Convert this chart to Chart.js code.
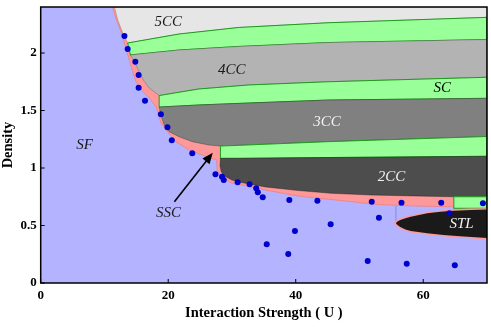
<!DOCTYPE html>
<html lang="en">
<head>
    <meta charset="UTF-8">
    <title>Phase Diagram</title>
    <script src="https://cdn.jsdelivr.net/npm/chart.js"></script>
    <style>
        body { margin: 0; background: #fff; }
        canvas { display: block; }
    </style>
</head>
<body>
    <canvas id="phaseChart" width="491" height="327"></canvas>
    <script>
        // Axis ranges and ticks
        const uRange = [0, 70];
        const densityRange = [0, 2.4];
        const uTicks = [0, 20, 40, 60];
        const densityTicks = [0, 0.5, 1, 1.5, 2];

        // Phase boundaries as [U, density] pairs
        const outerEdge = [[11.26, 2.4], [11.88, 2.287], [12.66, 2.174], [13.44, 2.026], [14.22, 1.878], [14.84, 1.765],
            [15.78, 1.678], [17.02, 1.609], [18.12, 1.530], [18.85, 1.391], [19.88, 1.316], [21.18, 1.229],
            [23.26, 1.157], [25.33, 1.113], [27.41, 1.075]];
        const pinkBottom = [[27.6, 1.07], [27.7, 0.98], [28.5, 0.915], [29.95, 0.870], [31.82, 0.850], [35.2, 0.809],
            [40.39, 0.756], [45.53, 0.726], [52.85, 0.683], [58.5, 0.670], [64.8, 0.663]];
        const cc5Edge = [[11.57, 2.4], [12.09, 2.287], [12.87, 2.174], [13.64, 2.087]];
        const green1Top = [[13.64, 2.087], [21.7, 2.165], [31.04, 2.222], [45.06, 2.263], [70, 2.31]];
        const green1Bottom = [[14.07, 1.983], [21.7, 2.026], [31.04, 2.057], [45.06, 2.091], [70, 2.117]];
        const cc4Edge = [[14.07, 1.983], [14.69, 1.922], [15.31, 1.852], [16.09, 1.765], [17.02, 1.696], [18.58, 1.630]];
        const green2Top = [[18.58, 1.630], [24.81, 1.687], [32.6, 1.722], [45.06, 1.750], [70, 1.789]];
        const green2Bottom = [[18.58, 1.530], [24.81, 1.548], [32.6, 1.565], [45.06, 1.591], [70, 1.606]];
        const cc3Edge = [[18.58, 1.530], [18.85, 1.461], [19.36, 1.374], [20.14, 1.316], [21.7, 1.272], [23.77, 1.229],
            [26.37, 1.2], [28.19, 1.191]];
        const green3Top = [[28.19, 1.191], [31.04, 1.197], [45.06, 1.229], [70, 1.274]];
        const green3Bottom = [[28.19, 1.084], [31.04, 1.084], [45.06, 1.091], [70, 1.102]];
        const cc2Edge = [[28.19, 1.084], [28.12, 1.02], [28.3, 0.97], [28.71, 0.935], [29.96, 0.896], [31.04, 0.878],
            [35.25, 0.835], [40.39, 0.804], [45.53, 0.780], [51.76, 0.765], [58.5, 0.757], [64.8, 0.750], [70, 0.750]];
        const scPatch = [[64.8, 0.75], [70, 0.75], [70, 0.65], [64.8, 0.65]];
        const stlTop = [[55.7, 0.519], [55.95, 0.534], [56.4, 0.548], [57.2, 0.564], [58.04, 0.577], [60.64, 0.606],
            [62.7, 0.619], [64.8, 0.629], [67.5, 0.635], [70, 0.639]];
        const stlBottom = [[55.7, 0.519], [55.95, 0.504], [56.4, 0.488], [57.2, 0.466], [58.04, 0.452], [60.64, 0.432],
            [63.2, 0.418], [65.78, 0.406], [70, 0.391]];
        const stlHaloTop = [[55.35, 0.519], [55.7, 0.541], [56.2, 0.557], [57.1, 0.576], [58.04, 0.589], [60.64, 0.618],
            [62.7, 0.631], [64.8, 0.641], [67.5, 0.647], [70, 0.651]];
        const stlHaloBottom = [[55.35, 0.519], [55.7, 0.497], [56.2, 0.479], [57.1, 0.455], [58.04, 0.440], [60.64, 0.419],
            [63.2, 0.405], [65.78, 0.393], [70, 0.378]];
        const stlSeam = [[55.7, 0.668], [55.7, 0.519]];

        // Simulation points
        const dotsU = [13.13, 13.64, 14.84, 15.36, 15.36, 16.36, 18.85, 19.88, 20.56, 23.77, 27.41, 28.44, 28.71,
            30.89, 32.76, 33.80, 34.05, 34.83, 38.99, 43.40, 51.92, 56.59, 62.82, 64.11, 69.36, 53.05, 45.48,
            39.88, 35.45, 38.83, 51.29, 57.41, 64.95];
        const dotsDensity = [2.148, 2.035, 1.924, 1.809, 1.698, 1.585, 1.467, 1.354, 1.241, 1.128, 0.945, 0.924, 0.896,
            0.876, 0.858, 0.823, 0.789, 0.745, 0.722, 0.716, 0.707, 0.698, 0.698, 0.607, 0.693, 0.568, 0.510,
            0.452, 0.337, 0.252, 0.191, 0.168, 0.154];

        // Phase names and where they sit
        const phaseLabels = [
            { text: '5CC', u: 19.99, d: 2.272, color: '#1a1a1a' },
            { text: '4CC', u: 29.95, d: 1.852, color: '#1a1a1a' },
            { text: 'SC', u: 62.98, d: 1.696, color: '#000' },
            { text: '3CC', u: 44.91, d: 1.403, color: '#f2f2f2' },
            { text: '2CC', u: 55.03, d: 0.924, color: '#f2f2f2' },
            { text: 'STL', u: 66.01, d: 0.510, color: '#f2f2f2' },
            { text: 'SF', u: 6.9, d: 1.2, color: '#1a1a1a' },
            { text: 'SSC', u: 20.06, d: 0.609, color: '#1a1a1a' }
        ];
        const sscArrow = [[20.97, 0.707], [26.99, 1.133]];

        const rev = a => a.slice().reverse();
        const toPoints = pts => pts.concat([pts[0]]).map(([u, d]) => ({ x: u, y: d }));

        function region(pts, fillColor, lineColor, lineWidth) {
            return {
                data: toPoints(pts),
                showLine: true,
                fill: 'shape',
                backgroundColor: fillColor,
                borderColor: lineColor,
                borderWidth: lineWidth,
                pointRadius: 0,
                pointHoverRadius: 0,
                tension: 0
            };
        }

        const green = '#99ff99', greenLine = '#1c9c1c';
        const datasets = [
            region([[0, 0], [70, 0], [70, 2.4], [0, 2.4]], '#b3b3ff', '#b3b3ff', 0),
            region([...outerEdge, ...pinkBottom, [64.8, 0.64], [70, 0.64], [70, 2.4]], '#ff9999', '#ee8080', 0.8),
            region([...cc5Edge, ...green1Top, [70, 2.4]], '#e6e6e6', 'rgba(80,80,80,0.5)', 0.6),
            region([...green1Top, ...rev(green1Bottom)], green, greenLine, 1),
            region([...green1Bottom, ...rev(green2Top), ...rev(cc4Edge)], '#b3b3b3', 'rgba(60,60,60,0.5)', 0.6),
            region([...green2Top, ...rev(green2Bottom)], green, greenLine, 1),
            region([...green2Bottom, ...rev(green3Top), ...rev(cc3Edge)], '#808080', 'rgba(40,40,40,0.6)', 0.6),
            region([...green3Top, ...rev(green3Bottom)], green, greenLine, 1),
            region([...green3Bottom, ...rev(cc2Edge)], '#4d4d4d', 'rgba(20,20,20,0.6)', 0.6),
            region(scPatch, green, greenLine, 1),
            {
                data: stlSeam.map(([u, d]) => ({ x: u, y: d })),
                showLine: true, fill: false, borderColor: '#9a9af0', borderWidth: 1, pointRadius: 0
            },
            region([...stlHaloTop, ...rev(stlHaloBottom)], '#ff9999', '#ff9999', 0),
            region([...stlTop, ...rev(stlBottom)], '#1a1a1a', '#1a1a1a', 0),
            {
                data: dotsU.map((u, i) => ({ x: u, y: dotsDensity[i] })),
                showLine: false,
                pointRadius: 3,
                pointBackgroundColor: '#0000cc',
                pointBorderWidth: 0
            }
        ];
        // first dataset at the back
        datasets.forEach((ds, i) => { ds.order = datasets.length - i; });

        const serif = '"Liberation Serif", "Times New Roman", serif';

        // Labels, arrow, frame and inward ticks
        const overlay = {
            id: 'overlay',
            afterDatasetsDraw(chart) {
                const { ctx, chartArea: a, scales: { x, y } } = chart;
                ctx.save();

                const [t0, t1] = sscArrow.map(([u, d]) => [x.getPixelForValue(u), y.getPixelForValue(d)]);
                const ang = Math.atan2(t1[1] - t0[1], t1[0] - t0[0]);
                const head = 11, half = 4.5;
                ctx.strokeStyle = '#000';
                ctx.lineWidth = 1.6;
                ctx.beginPath();
                ctx.moveTo(t0[0], t0[1]);
                ctx.lineTo(t1[0] - Math.cos(ang) * head * 0.8, t1[1] - Math.sin(ang) * head * 0.8);
                ctx.stroke();
                ctx.fillStyle = '#000';
                ctx.beginPath();
                ctx.moveTo(t1[0], t1[1]);
                ctx.lineTo(t1[0] - Math.cos(ang) * head - Math.sin(ang) * half, t1[1] - Math.sin(ang) * head + Math.cos(ang) * half);
                ctx.lineTo(t1[0] - Math.cos(ang) * head + Math.sin(ang) * half, t1[1] - Math.sin(ang) * head - Math.cos(ang) * half);
                ctx.closePath();
                ctx.fill();

                ctx.font = 'italic 15px ' + serif;
                ctx.textAlign = 'center';
                ctx.textBaseline = 'middle';
                phaseLabels.forEach(l => {
                    ctx.fillStyle = l.color;
                    ctx.fillText(l.text, x.getPixelForValue(l.u), y.getPixelForValue(l.d));
                });

                ctx.strokeStyle = '#000';
                ctx.lineWidth = 1.5;
                ctx.strokeRect(a.left, a.top, a.right - a.left, a.bottom - a.top);
                ctx.lineWidth = 1;
                ctx.beginPath();
                uTicks.forEach(v => {
                    const px = x.getPixelForValue(v);
                    ctx.moveTo(px, a.bottom);
                    ctx.lineTo(px, a.bottom - 4);
                });
                densityTicks.forEach(v => {
                    const py = y.getPixelForValue(v);
                    ctx.moveTo(a.left, py);
                    ctx.lineTo(a.left + 4, py);
                });
                ctx.stroke();
                ctx.restore();
            }
        };

        new Chart(document.getElementById('phaseChart'), {
            type: 'scatter',
            data: { datasets },
            options: {
                responsive: false,
                animation: false,
                events: [],
                // the scales keep a few px on the right; pull the plot out to 489
                layout: { padding: { top: 7, right: -3, left: 0, bottom: 0 } },
                plugins: { legend: { display: false }, tooltip: { enabled: false } },
                scales: {
                    x: {
                        type: 'linear',
                        min: uRange[0],
                        max: uRange[1],
                        afterBuildTicks: s => { s.ticks = uTicks.map(v => ({ value: v })); },
                        afterFit: s => { s.height = 44; s.paddingLeft = 0; s.paddingRight = 0; },
                        grid: { display: false, drawTicks: false },
                        border: { display: false },
                        ticks: {
                            padding: 5,
                            color: '#000',
                            maxRotation: 0,
                            callback: v => String(v),
                            font: { family: serif, size: 13, weight: 'bold' }
                        },
                        title: {
                            display: true,
                            text: 'Interaction Strength ( U )',
                            color: '#000',
                            padding: { top: 0, bottom: 5 },
                            font: { family: serif, size: 14.5, weight: 'bold' }
                        }
                    },
                    y: {
                        type: 'linear',
                        min: densityRange[0],
                        max: densityRange[1],
                        afterBuildTicks: s => { s.ticks = densityTicks.map(v => ({ value: v })); },
                        afterFit: s => { s.width = 40.7; s.paddingTop = 0; s.paddingBottom = 0; },
                        grid: { display: false, drawTicks: false },
                        border: { display: false },
                        ticks: {
                            padding: 4,
                            color: '#000',
                            callback: v => String(v),
                            font: { family: serif, size: 13, weight: 'bold' }
                        },
                        title: {
                            display: true,
                            text: 'Density',
                            color: '#000',
                            padding: { top: 0, bottom: 0 },
                            font: { family: serif, size: 14.5, weight: 'bold' }
                        }
                    }
                }
            },
            plugins: [overlay]
        });
    </script>
</body>
</html>
